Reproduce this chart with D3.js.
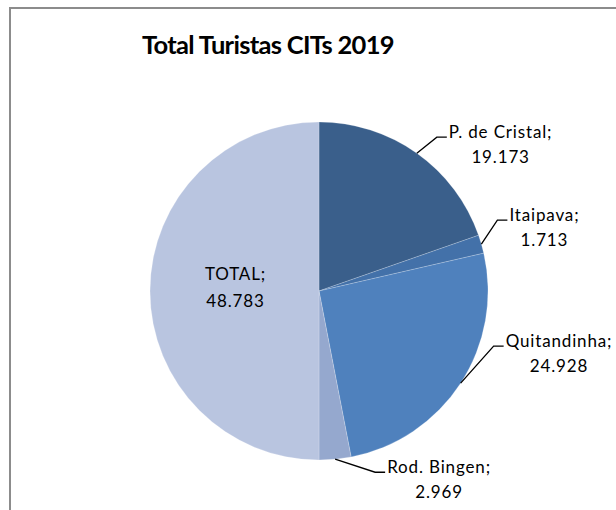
<!DOCTYPE html>
<html>
<head>
<meta charset="utf-8">
<script src="https://cdn.jsdelivr.net/npm/d3@7"></script>
<style>
  html, body { margin: 0; padding: 0; background: #fff; }
  svg { display: block; }
</style>
</head>
<body>
<svg id="chart" width="616" height="510"></svg>
<script>
const title = "Total Turistas CITs 2019";
const categories = ["P. de Cristal", "Itaipava", "Quitandinha", "Rod. Bingen", "TOTAL"];
const values = [19.173, 1.713, 24.928, 2.969, 48.783];
const valueLabels = ["19.173", "1.713", "24.928", "2.969", "48.783"];
const colors = ["#3A5F8B", "#4371A9", "#4F81BD", "#95A8CE", "#B9C5E0"];

const svg = d3.select("#chart");
const cx = 319, cy = 291, R = 169;

// frame
svg.append("rect").attr("x", 10).attr("y", 8).attr("width", 700).attr("height", 600)
  .attr("fill", "#fff").attr("stroke", "#8c8c8c").attr("stroke-width", 2);

svg.append("text").attr("x", 268).attr("y", 54)
  .attr("text-anchor", "middle")
  .attr("font-family", "Lato, 'Open Sans', sans-serif")
  .attr("font-weight", "bold").attr("font-size", 25.5)
  .attr("letter-spacing", -0.7)
  .attr("fill", "#000").text(title);

const data = categories.map((c, i) => ({ name: c, value: values[i], label: valueLabels[i], color: colors[i] }));
const pie = d3.pie().sort(null).value(d => d.value);
const arcs = pie(data);
const arc = d3.arc().innerRadius(0).outerRadius(R);

const g = svg.append("g").attr("transform", `translate(${cx},${cy})`);
g.selectAll("path").data(arcs).join("path")
  .attr("d", arc)
  .attr("fill", d => d.data.color)
  .attr("stroke", "rgba(255,255,255,0.35)")
  .attr("stroke-width", 0.6);

// label layout: elbow offsets from slice edge point (null => inside label)
const leader = [
  { dx: 20, dy: -16 },
  { dx: 16, dy: -24 },
  { dx: 33, dy: -37 },
  { dx: 40, dy: 13 },
  null
];
const fontFam = "Lato, 'Open Sans', sans-serif";
const fs = 17, ls = 0.85, lineGap = 24.5;

arcs.forEach((a, i) => {
  const mid = (a.startAngle + a.endAngle) / 2;
  const px = Math.sin(mid) * R, py = -Math.cos(mid) * R;
  const L = leader[i];
  if (L) {
    const ex = px + L.dx, ey = py + L.dy;
    const hx = ex + 10;
    g.append("polyline")
      .attr("points", `${px},${py} ${ex},${ey} ${hx},${ey}`)
      .attr("fill", "none").attr("stroke", "#000").attr("stroke-width", 1.3);
    const t1 = g.append("text").attr("x", hx + 2).attr("y", ey + 1)
      .attr("font-family", fontFam).attr("font-size", fs).attr("letter-spacing", ls)
      .attr("fill", "#000").text(a.data.name + ";");
    const w = t1.node().getComputedTextLength();
    g.append("text").attr("x", hx + 2 + w / 2).attr("y", ey + 1 + lineGap)
      .attr("text-anchor", "middle")
      .attr("font-family", fontFam).attr("font-size", fs).attr("letter-spacing", ls)
      .attr("fill", "#000").text(a.data.label);
  } else {
    const [tx, ty] = arc.centroid(a);
    g.append("text").attr("x", tx + 1).attr("y", ty - 11)
      .attr("text-anchor", "middle")
      .attr("font-family", fontFam).attr("font-size", fs).attr("letter-spacing", ls)
      .attr("fill", "#000").text(a.data.name + ";");
    g.append("text").attr("x", tx + 1).attr("y", ty - 11 + lineGap + 2.5)
      .attr("text-anchor", "middle")
      .attr("font-family", fontFam).attr("font-size", fs).attr("letter-spacing", ls)
      .attr("fill", "#000").text(a.data.label);
  }
});
</script>
</body>
</html>
